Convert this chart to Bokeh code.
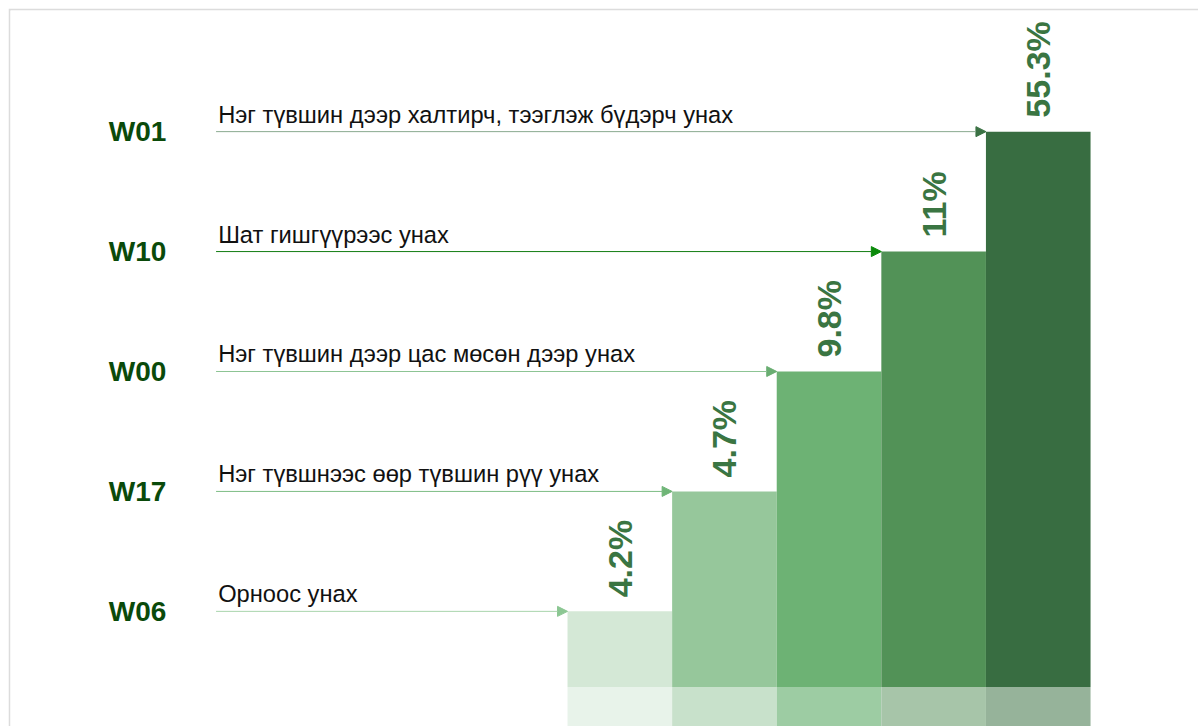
from bokeh.plotting import figure
from bokeh.models import Range1d, ColumnDataSource, Arrow, NormalHead
from bokeh.core.properties import value
from bokeh.embed import file_html
from bokeh.resources import INLINE

# ---- data ----
codes = ["W06", "W17", "W00", "W10", "W01"]
descriptions = [
    "Орноос унах",
    "Нэг түвшнээс өөр түвшин рүү унах",
    "Нэг түвшин дээр цас мөсөн дээр унах",
    "Шат гишгүүрээс унах",
    "Нэг түвшин дээр халтирч, тээглэж бүдэрч унах",
]
percents = [4.2, 4.7, 9.8, 11, 55.3]
pct_labels = ["4.2%", "4.7%", "9.8%", "11%", "55.3%"]

# ---- styles ----
bar_colors = ["#d4e8d6", "#96c79b", "#6db274", "#529257", "#386d41"]
strip_colors = ["#e8f3ea", "#c8e1cb", "#9dcca3", "#a7c5a9", "#96b39a"]
line_colors = ["#a8d5ac", "#7dbd84", "#8cc493", "#107c10", "#8aaa8f"]
head_colors = ["#8cc793", "#6fb577", "#6aae72", "#0a8a0a", "#3b7244"]

# staircase level = rank of the share
order = sorted(range(len(percents)), key=lambda i: percents[i])
levels = [0] * len(percents)
for r, i in enumerate(order):
    levels[i] = r + 1
xs = list(range(len(codes)))

STRIP_TOP = 0.37
CODE_X = -4.61
TEXT_X = -3.84
ARROW_X = -3.86

src = ColumnDataSource(dict(
    x=xs, top=levels, code=codes, desc=descriptions, pct=pct_labels,
    bar_color=bar_colors, strip_color=strip_colors,
    code_x=[CODE_X] * len(xs), text_x=[TEXT_X] * len(xs),
))

p = figure(width=1190, height=718, output_backend="svg", toolbar_location=None,
           x_range=Range1d(-5.825, 5.532), y_range=Range1d(0.04, 6.01),
           min_border_left=2, min_border_top=2, min_border_right=0, min_border_bottom=0,
           border_fill_color="#dcdcdc", background_fill_color="white",
           outline_line_color=None)
p.margin = (8, 0, 0, 8)
p.axis.visible = False
p.grid.visible = False

p.vbar(x="x", width=1.0, bottom=STRIP_TOP, top="top", fill_color="bar_color",
       line_color=None, source=src)
p.vbar(x="x", width=1.0, bottom=0, top=STRIP_TOP, fill_color="strip_color",
       line_color=None, source=src)

for i in xs:
    arr = Arrow(end=NormalHead(size=10, fill_color=head_colors[i], line_color=head_colors[i]),
                x_start=ARROW_X, y_start=levels[i], x_end=i - 0.5, y_end=levels[i],
                line_color=line_colors[i], line_width=1)
    p.add_layout(arr)

p.text(x="code_x", y="top", text="code", source=src, text_align="center",
       text_baseline="middle", text_font=value("Liberation Sans"),
       text_font_style="bold", text_font_size="28px", text_color="#0a4a0a")
p.text(x="text_x", y="top", text="desc", source=src, text_align="left",
       text_baseline="alphabetic", y_offset=-17, text_font=value("Liberation Sans"),
       text_font_size="23.7px", text_color="#111111")
p.text(x="x", y="top", text="pct", source=src, angle=1.5707963, text_align="left",
       text_baseline="middle", y_offset=-14, text_font=value("Liberation Sans"),
       text_font_style="bold", text_font_size="34px", text_color="#3a7542")

open("out.html", "w").write(file_html(p, INLINE))
